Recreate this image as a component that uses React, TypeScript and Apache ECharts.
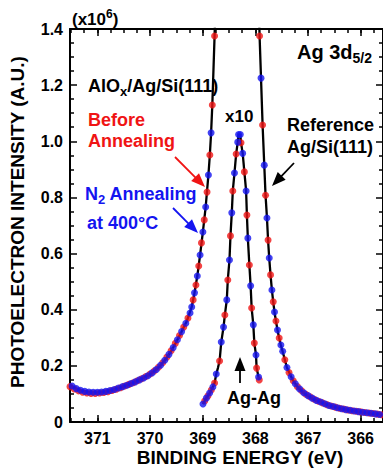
import React, { useEffect, useRef } from "react";
import * as echarts from "echarts";

// ---- axis ticks ----
const energyTicks = [366, 367, 368, 369, 370, 371];
const X_MIN = 365.575;
const X_MAX = 371.52;

// ---- Reference Ag/Si(111) (black line), main curve ----
const refOuterEnergy = [
  371.52, 371.4, 371.3, 371.2, 371.1, 371.0, 370.9, 370.8, 370.7, 370.6, 370.5, 370.4, 370.3, 370.2, 370.1, 370.0,
  369.9, 369.8, 369.7, 369.6, 369.5, 369.4, 369.3, 369.208, 369.155, 369.102, 369.049, 368.996, 368.943, 368.891,
  368.864, 368.84, 368.817, 368.774, 368.74, 367.95, 367.919, 367.892, 367.862, 367.83, 367.806, 367.779, 367.758,
  367.736, 367.711, 367.685, 367.66, 367.636, 367.609, 367.579, 367.547, 367.515, 367.48, 367.4, 367.3, 367.2,
  367.1, 367.0, 366.9, 366.8, 366.7, 366.6, 366.5, 366.4, 366.3, 366.2, 366.1, 366.0, 365.9, 365.8, 365.7, 365.575,
];
const refOuterIntensity = [
  0.132, 0.118, 0.111, 0.107, 0.105, 0.105, 0.107, 0.11, 0.115, 0.121, 0.127, 0.134, 0.141, 0.15, 0.16, 0.17,
  0.184, 0.202, 0.224, 0.252, 0.286, 0.322, 0.36, 0.41, 0.46, 0.52, 0.595, 0.677, 0.766, 0.88,
  0.951, 1.03, 1.129, 1.375, 1.6, 1.6, 1.375, 1.225, 1.058, 0.915, 0.808, 0.727, 0.648,
  0.584, 0.524, 0.47, 0.428, 0.392, 0.36, 0.328, 0.299, 0.274, 0.25, 0.194, 0.153, 0.125,
  0.106, 0.093, 0.081, 0.073, 0.066, 0.059, 0.054, 0.048, 0.045, 0.041, 0.038, 0.035, 0.033, 0.03, 0.028, 0.025,
];

// ---- Reference, x10 curve ----
const refX10Energy = [
  368.994, 368.962, 368.93, 368.9, 368.868, 368.836, 368.806, 368.774, 368.742, 368.711, 368.679, 368.647, 368.604,
  368.579, 368.542, 368.523, 368.491, 368.472, 368.447, 368.428, 368.396, 368.364, 368.334, 368.318, 368.285,
  368.272, 368.24, 368.208, 368.175, 368.16, 368.142, 368.113, 368.089, 368.07, 368.038, 368.019, 367.987, 367.976,
  367.938, 367.925,
];
const refX10Intensity = [
  0.064, 0.075, 0.085, 0.093, 0.103, 0.114, 0.125, 0.139, 0.171, 0.192, 0.217, 0.285, 0.338,
  0.381, 0.435, 0.506, 0.577, 0.663, 0.745, 0.823, 0.887, 0.955, 0.997, 1.024, 1.024,
  0.995, 0.957, 0.891, 0.823, 0.737, 0.655, 0.559, 0.485, 0.406, 0.346, 0.281, 0.239, 0.192,
  0.16, 0.15,
];

// ---- AlOx/Ag/Si(111) before annealing (red) ----
const beforeEnergy = [
  371.52, 371.44, 371.36, 371.28, 371.2, 371.12, 371.04, 370.96, 370.88, 370.8, 370.72, 370.64, 370.56, 370.48,
  370.4, 370.32, 370.24, 370.16, 370.08, 370.0, 369.92, 369.84, 369.76, 369.68, 369.6, 369.52, 369.44, 369.36, 369.28,
  369.181, 369.128, 369.075, 369.023, 368.97, 368.917, 368.864, 368.817, 368.774,
  367.919, 367.862, 367.806, 367.758, 367.711, 367.66, 367.609, 367.547,
  367.44, 367.36, 367.28, 367.2, 367.12, 367.04, 366.96, 366.88, 366.8, 366.72, 366.64, 366.56, 366.48, 366.4,
  366.32, 366.24, 366.16, 366.08, 366.0, 365.92, 365.84, 365.76, 365.68, 365.6,
];
const beforeIntensity = [
  0.126, 0.118, 0.111, 0.106, 0.103, 0.102, 0.102, 0.103, 0.105, 0.108, 0.112, 0.117, 0.122, 0.128,
  0.134, 0.14, 0.147, 0.154, 0.162, 0.171, 0.182, 0.195, 0.211, 0.231, 0.254, 0.28, 0.308, 0.338, 0.37,
  0.435, 0.488, 0.556, 0.638, 0.72, 0.819, 0.951, 1.129, 1.375,
  1.375, 1.058, 0.808, 0.648, 0.524, 0.428, 0.36, 0.299,
  0.222, 0.176, 0.147, 0.126, 0.111, 0.099, 0.09, 0.081, 0.074, 0.068, 0.062, 0.057, 0.053, 0.049,
  0.046, 0.043, 0.04, 0.038, 0.036, 0.034, 0.032, 0.03, 0.028, 0.026,
];
const beforeX10Energy = [
  368.962, 368.9, 368.836, 368.774, 368.679, 368.579, 368.523, 368.472, 368.428, 368.364, 368.272, 368.208, 368.16,
  368.113, 368.07, 368.019, 367.976, 367.925,
];
const beforeX10Intensity = [
  0.075, 0.093, 0.114, 0.139, 0.217, 0.381, 0.506, 0.663, 0.823, 0.955, 0.995, 0.891, 0.737,
  0.559, 0.406, 0.281, 0.192, 0.15,
];

// ---- N2 annealing at 400°C (blue) ----
const n2Energy = [
  371.48, 371.4, 371.32, 371.24, 371.16, 371.08, 371.0, 370.92, 370.84, 370.76, 370.68, 370.6, 370.52, 370.44,
  370.36, 370.28, 370.2, 370.12, 370.04, 369.96, 369.88, 369.8, 369.72, 369.64, 369.56, 369.48, 369.4, 369.32, 369.24,
  369.208, 369.155, 369.102, 369.049, 368.996, 368.943, 368.891, 368.84,
  367.892, 367.83, 367.779, 367.736, 367.685, 367.636, 367.579, 367.515,
  367.48, 367.4, 367.32, 367.24, 367.16, 367.08, 367.0, 366.92, 366.84, 366.76, 366.68, 366.6, 366.52, 366.44,
  366.36, 366.28, 366.2, 366.12, 366.04, 365.96, 365.88, 365.8, 365.72, 365.64,
];
const n2Intensity = [
  0.128, 0.119, 0.113, 0.109, 0.107, 0.106, 0.106, 0.107, 0.109, 0.112, 0.116, 0.121, 0.126, 0.131,
  0.137, 0.143, 0.15, 0.157, 0.165, 0.175, 0.187, 0.202, 0.22, 0.241, 0.265, 0.293, 0.322, 0.352, 0.388,
  0.41, 0.46, 0.52, 0.595, 0.677, 0.766, 0.88, 1.03,
  1.225, 0.915, 0.727, 0.584, 0.47, 0.392, 0.328, 0.274,
  0.252, 0.194, 0.161, 0.136, 0.118, 0.104, 0.094, 0.085, 0.077, 0.071, 0.065, 0.059, 0.055, 0.051,
  0.047, 0.044, 0.042, 0.039, 0.037, 0.035, 0.033, 0.031, 0.029, 0.027,
];
const n2X10Energy = [
  368.994, 368.93, 368.868, 368.806, 368.742, 368.647, 368.604, 368.542, 368.491, 368.447, 368.396, 368.334,
  368.318, 368.285, 368.24, 368.175, 368.142, 368.089, 368.038, 367.987, 367.938,
];
const n2X10Intensity = [
  0.064, 0.085, 0.103, 0.125, 0.171, 0.285, 0.338, 0.435, 0.577, 0.745, 0.887, 0.997,
  1.024, 1.024, 0.957, 0.823, 0.655, 0.485, 0.346, 0.239, 0.16,
];

const FONT = '"Liberation Sans", Arial, Helvetica, sans-serif';
const RED = "#f01414";
const BLUE = "#1414f0";

const zip = (xs: number[], ys: number[]) => xs.map((x, i) => [x, ys[i]]);

function minorTickValues(): number[] {
  const out: number[] = [];
  for (let v = 365.75; v <= 371.5; v += 0.25) out.push(Math.round(v * 100) / 100);
  return out;
}

function txt(x: number, y: number, text: string, opts: any = {}) {
  const size = opts.size || 18;
  const color = opts.color || "#000";
  return {
    type: "text",
    x,
    y,
    rotation: opts.rotation || 0,
    z: 100,
    style: {
      text,
      fill: color,
      font: `bold ${size}px ${FONT}`,
      align: opts.align || "left",
      textAlign: opts.align || "left",
      verticalAlign: "middle",
      textVerticalAlign: "middle",
      rich: opts.rich,
    },
  };
}

function richStyles(size: number, color: string, small: number) {
  return {
    a: { fontSize: size, fontWeight: "bold", fontFamily: FONT, fill: color, color, lineHeight: size + 5 },
    sup: { fontSize: small, fontWeight: "bold", fontFamily: FONT, fill: color, color, lineHeight: small, verticalAlign: "top" },
    sub: { fontSize: small, fontWeight: "bold", fontFamily: FONT, fill: color, color, lineHeight: small, verticalAlign: "bottom" },
  };
}

function arrow(x1: number, y1: number, x2: number, y2: number, color: string) {
  const dx = x2 - x1;
  const dy = y2 - y1;
  const len = Math.sqrt(dx * dx + dy * dy);
  const ux = dx / len;
  const uy = dy / len;
  const hl = 14;
  const hw = 5.5;
  const bx = x2 - ux * hl;
  const by = y2 - uy * hl;
  return [
    { type: "line", z: 90, shape: { x1, y1, x2: bx + ux * 2, y2: by + uy * 2 }, style: { stroke: color, lineWidth: 1.8 } },
    {
      type: "polygon",
      z: 90,
      shape: { points: [[x2, y2], [bx - uy * hw, by + ux * hw], [bx + uy * hw, by - ux * hw]] },
      style: { fill: color },
    },
  ];
}

export default function App() {
  const ref = useRef<HTMLDivElement>(null);
  useEffect(() => {
    if (!ref.current) return;
    const chart = echarts.init(ref.current, undefined, { renderer: "svg" });
    const minors = minorTickValues();
    const axisLineStyle = { color: "#000", width: 2 };
    const tickLine = { color: "#000", width: 1.5 };
    const baseX = {
      type: "value",
      min: X_MIN,
      max: X_MAX,
      inverse: true,
      splitLine: { show: false },
    };
    const option: any = {
      animation: false,
      backgroundColor: "#fff",
      grid: { left: 70, top: 29, width: 315, height: 393, containLabel: false },
      xAxis: [
        {
          ...baseX,
          position: "bottom",
          axisLine: { show: true, onZero: false, lineStyle: axisLineStyle },
          axisTick: { show: true, inside: true, length: 7, lineStyle: tickLine, customValues: energyTicks },
          axisLabel: {
            show: true,
            customValues: energyTicks,
            color: "#000",
            fontWeight: "bold",
            fontSize: 16,
            fontFamily: FONT,
            margin: 8,
          },
        },
        {
          ...baseX,
          position: "bottom",
          axisLine: { show: false, onZero: false },
          axisTick: { show: true, inside: true, length: 4, lineStyle: tickLine, customValues: minors },
          axisLabel: { show: false },
        },
        {
          ...baseX,
          position: "top",
          axisLine: { show: true, onZero: false, lineStyle: axisLineStyle },
          axisTick: { show: true, inside: true, length: 7, lineStyle: tickLine, customValues: energyTicks },
          axisLabel: { show: false },
        },
        {
          ...baseX,
          position: "top",
          axisLine: { show: false, onZero: false },
          axisTick: { show: true, inside: true, length: 4, lineStyle: tickLine, customValues: minors },
          axisLabel: { show: false },
        },
      ],
      yAxis: [
        {
          type: "value",
          position: "left",
          min: 0,
          max: 1.4,
          interval: 0.2,
          axisLine: { show: true, onZero: false, lineStyle: axisLineStyle },
          axisTick: { show: true, inside: true, length: 7, lineStyle: tickLine },
          minorTick: { show: true, splitNumber: 4, length: 4, lineStyle: tickLine },
          splitLine: { show: false },
          axisLabel: {
            color: "#000",
            fontWeight: "bold",
            fontSize: 16,
            fontFamily: FONT,
            margin: 7,
            formatter: (v: number) => (v === 0 ? "0" : v.toFixed(1)),
          },
        },
        {
          type: "value",
          position: "right",
          min: 0,
          max: 1.4,
          interval: 0.2,
          axisLine: { show: true, onZero: false, lineStyle: axisLineStyle },
          axisTick: { show: true, inside: true, length: 7, lineStyle: tickLine },
          minorTick: { show: true, splitNumber: 4, length: 4, lineStyle: tickLine },
          splitLine: { show: false },
          axisLabel: { show: false },
        },
      ],
      series: [
        {
          name: "Reference Ag/Si(111)",
          type: "line",
          data: zip(refOuterEnergy, refOuterIntensity),
          showSymbol: false,
          symbol: "none",
          clip: true,
          lineStyle: { color: "#000", width: 2.3 },
          z: 2,
        },
        {
          name: "Reference Ag/Si(111) x10",
          type: "line",
          data: zip(refX10Energy, refX10Intensity),
          showSymbol: false,
          symbol: "none",
          clip: true,
          lineStyle: { color: "#000", width: 2.3 },
          z: 2,
        },
        {
          name: "Before Annealing",
          type: "scatter",
          data: zip(beforeEnergy, beforeIntensity).concat(zip(beforeX10Energy, beforeX10Intensity)),
          symbolSize: 7,
          clip: true,
          itemStyle: { color: RED },
          z: 3,
        },
        {
          name: "N2 Annealing at 400°C",
          type: "scatter",
          data: zip(n2Energy, n2Intensity).concat(zip(n2X10Energy, n2X10Intensity)),
          symbolSize: 7,
          clip: true,
          itemStyle: { color: BLUE },
          z: 4,
        },
      ],
      graphic: [
        txt(72, 19, "{a|(x10}{sup|6}{a|)}", { rich: richStyles(17, "#000", 12) }),
        txt(17, 222, "PHOTOELECTRON INTENSITY (A.U.)", { size: 19, align: "center", rotation: Math.PI / 2 }),
        txt(240, 457, "BINDING ENERGY (eV)", { size: 19, align: "center" }),
        txt(88, 86, "{a|AlO}{sub|x}{a|/Ag/Si(111)}", { rich: richStyles(18, "#000", 13) }),
        txt(88, 120, "Before", { color: RED }),
        txt(88, 141, "Annealing", { color: RED }),
        txt(85, 194, "{a|N}{sub|2}{a| Annealing}", { rich: richStyles(18, BLUE, 13) }),
        txt(87, 223, "at 400°C", { color: BLUE }),
        txt(225, 116, "x10", { size: 17 }),
        txt(287, 125, "Reference"),
        txt(287, 147, "Ag/Si(111)"),
        txt(297, 52, "{a|Ag 3d}{sub|5/2}", { rich: richStyles(20, "#000", 14) }),
        txt(227, 398, "Ag-Ag"),
        ...arrow(175, 157, 205, 187, RED),
        ...arrow(173, 208, 198, 233, BLUE),
        ...arrow(294, 163, 272, 186, "#000"),
        ...arrow(240, 383, 240, 357, "#000"),
      ],
    };
    chart.setOption(option);
    return () => chart.dispose();
  }, []);
  return (
    <div
      ref={ref}
      style={{ position: "absolute", left: 0, top: 0, width: 383, height: 470, background: "#fff" }}
    />
  );
}
